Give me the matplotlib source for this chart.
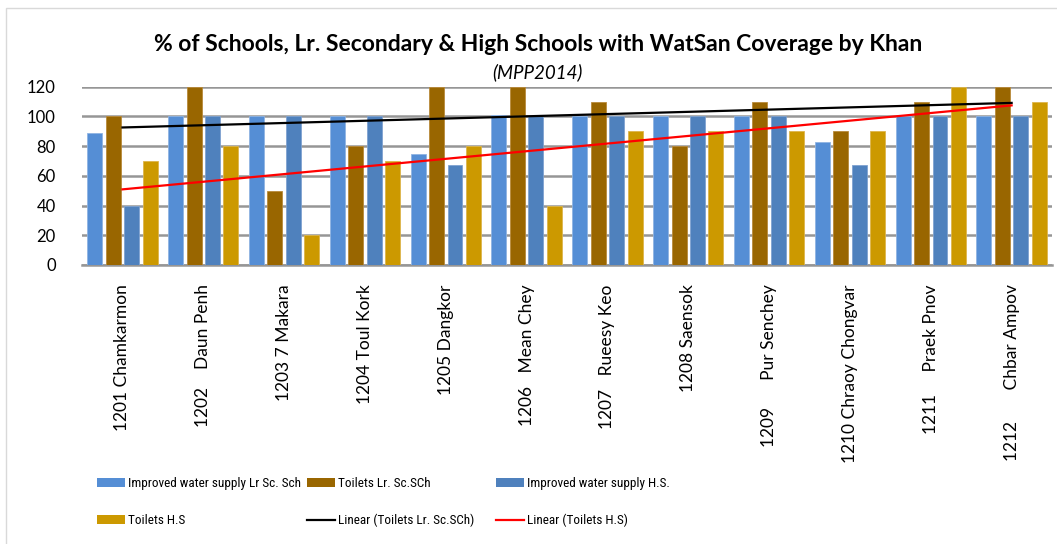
import numpy as np
import matplotlib
matplotlib.use("Agg")
import matplotlib.pyplot as plt
from matplotlib.patches import Patch, Rectangle
from matplotlib.lines import Line2D
from matplotlib import font_manager

plt.rcParams['font.family'] = ['Lato', 'DejaVu Sans']

# Khan labels (spacing kept as in the source workbook)
khans = [
    "1201 Chamkarmon",
    "1202    Daun Penh",
    "1203 7 Makara",
    "1204 Toul Kork",
    "1205 Dangkor",
    "1206   Mean Chey",
    "1207   Rueesy Keo",
    "1208 Saensok",
    "1209      Pur Senchey",
    "1210 Chraoy Chongvar",
    "1211     Praek Pnov",
    "1212       Chbar Ampov",
]

water_lr = [89, 100, 100, 100, 75, 101, 100, 100, 100, 83, 100, 100]
toilets_lr = [100, 120, 50, 80, 120, 120, 110, 80, 110, 90, 110, 120]
water_hs = [40, 100, 100, 100, 67, 100, 100, 100, 100, 67, 100, 100]
toilets_hs = [70, 80, 20, 70, 80, 40, 90, 90, 90, 90, 120, 110]

series_names = ["Improved water supply Lr Sc. Sch", "Toilets Lr. Sc.SCh",
                "Improved water supply H.S.", "Toilets H.S"]
colors = ["#558ED5", "#996600", "#4F81BD", "#CC9900"]
edge_colors = ["#8FB4E3", "#B98A3A", "#7FA2D0", "#DDB54C"]

W, H = 1057, 544
fig = plt.figure(figsize=(W / 100, H / 100), dpi=100)
ax = fig.add_axes([0.0776, 0.5129, 0.9177, 0.3277])

x = np.arange(1, len(khans) + 1)
step = 0.228
width = 0.185
all_series = [water_lr, toilets_lr, water_hs, toilets_hs]
for i, (vals, c, ec) in enumerate(zip(all_series, colors, edge_colors)):
    ax.bar(x + (i - 1.5) * step, vals, width=width, color=c,
           edgecolor=ec, linewidth=0.6, zorder=3)

# Linear trend lines
for vals, lc in [(toilets_lr, "black"), (toilets_hs, "red")]:
    k, b = np.polyfit(x, vals, 1)
    ax.plot([x[0], x[-1]], [k * x[0] + b, k * x[-1] + b], color=lc,
            linewidth=1.6, zorder=4)

ax.set_xlim(0.5, 12.5)
ax.set_ylim(0, 120)
ax.set_yticks(range(0, 121, 20))
ax.yaxis.grid(True, color="#969696", linewidth=1.8, zorder=0)
ax.set_axisbelow(True)
for s in ["top", "right", "left"]:
    ax.spines[s].set_visible(False)
ax.spines["bottom"].set_color("#969696")
ax.spines["bottom"].set_linewidth(1.8)
ax.tick_params(axis="y", length=0, pad=19, labelsize=12)
ax.tick_params(axis="x", length=0, pad=14, labelsize=12.5)
ax.set_xticks(x)
ax.set_xticklabels(khans, rotation=90, ha="center", va="top")

fig.text(0.509, 0.919, "% of Schools, Lr. Secondary & High Schools with WatSan Coverage by Khan",
         ha="center", va="center", fontsize=16.5, fontweight="bold")
fig.text(0.508, 0.867, "(MPP2014)", ha="center", va="center",
         fontsize=13.5, style="italic")

# Legend text: a narrow face when one is installed
installed = {f.name for f in font_manager.fontManager.ttflist}
narrow = [n for n in ["Roboto Condensed", "Liberation Sans Narrow",
                      "Open Sans Condensed", "DejaVu Sans Condensed"]
          if n in installed]
if narrow:
    leg_font = dict(family=[narrow[0], "Lato"], size=9.5)
else:
    leg_font = dict(family=["DejaVu Sans", "Lato"], stretch="condensed", size=9)

# Legend arranged in three columns, each placed after the previous one
handles = [Patch(facecolor=c, edgecolor="none") for c in colors]
handles += [Line2D([], [], color="black", linewidth=1.6),
            Line2D([], [], color="red", linewidth=1.6)]
labels = series_names + ["Linear (Toilets Lr. Sc.SCh)", "Linear (Toilets H.S)"]
renderer = fig.canvas.get_renderer()
col_x = [97 / W, 258 / W, 418 / W]
min_gap = [0, 6 / W, 22 / W]
prev_right = 0
for n, idx in enumerate([[0, 3], [1, 4], [2, 5]]):
    xpos = max(col_x[n], prev_right + min_gap[n])
    leg = fig.legend([handles[j] for j in idx], [labels[j] for j in idx],
                     loc="upper left", bbox_to_anchor=(xpos, 1 - 477 / H),
                     frameon=False, prop=leg_font, handlelength=2.1,
                     handleheight=0.7, handletextpad=0.25,
                     labelspacing=1.8, borderaxespad=0, borderpad=0)
    bb = leg.get_window_extent(renderer)
    prev_right = bb.x1 / W

fig.add_artist(Rectangle((6 / W, -0.05), 1.1, 1 - 8 / H + 0.05,
                         transform=fig.transFigure, fill=False,
                         edgecolor="#D9D9D9", linewidth=1.0))

fig.savefig("out.png", dpi=100)
